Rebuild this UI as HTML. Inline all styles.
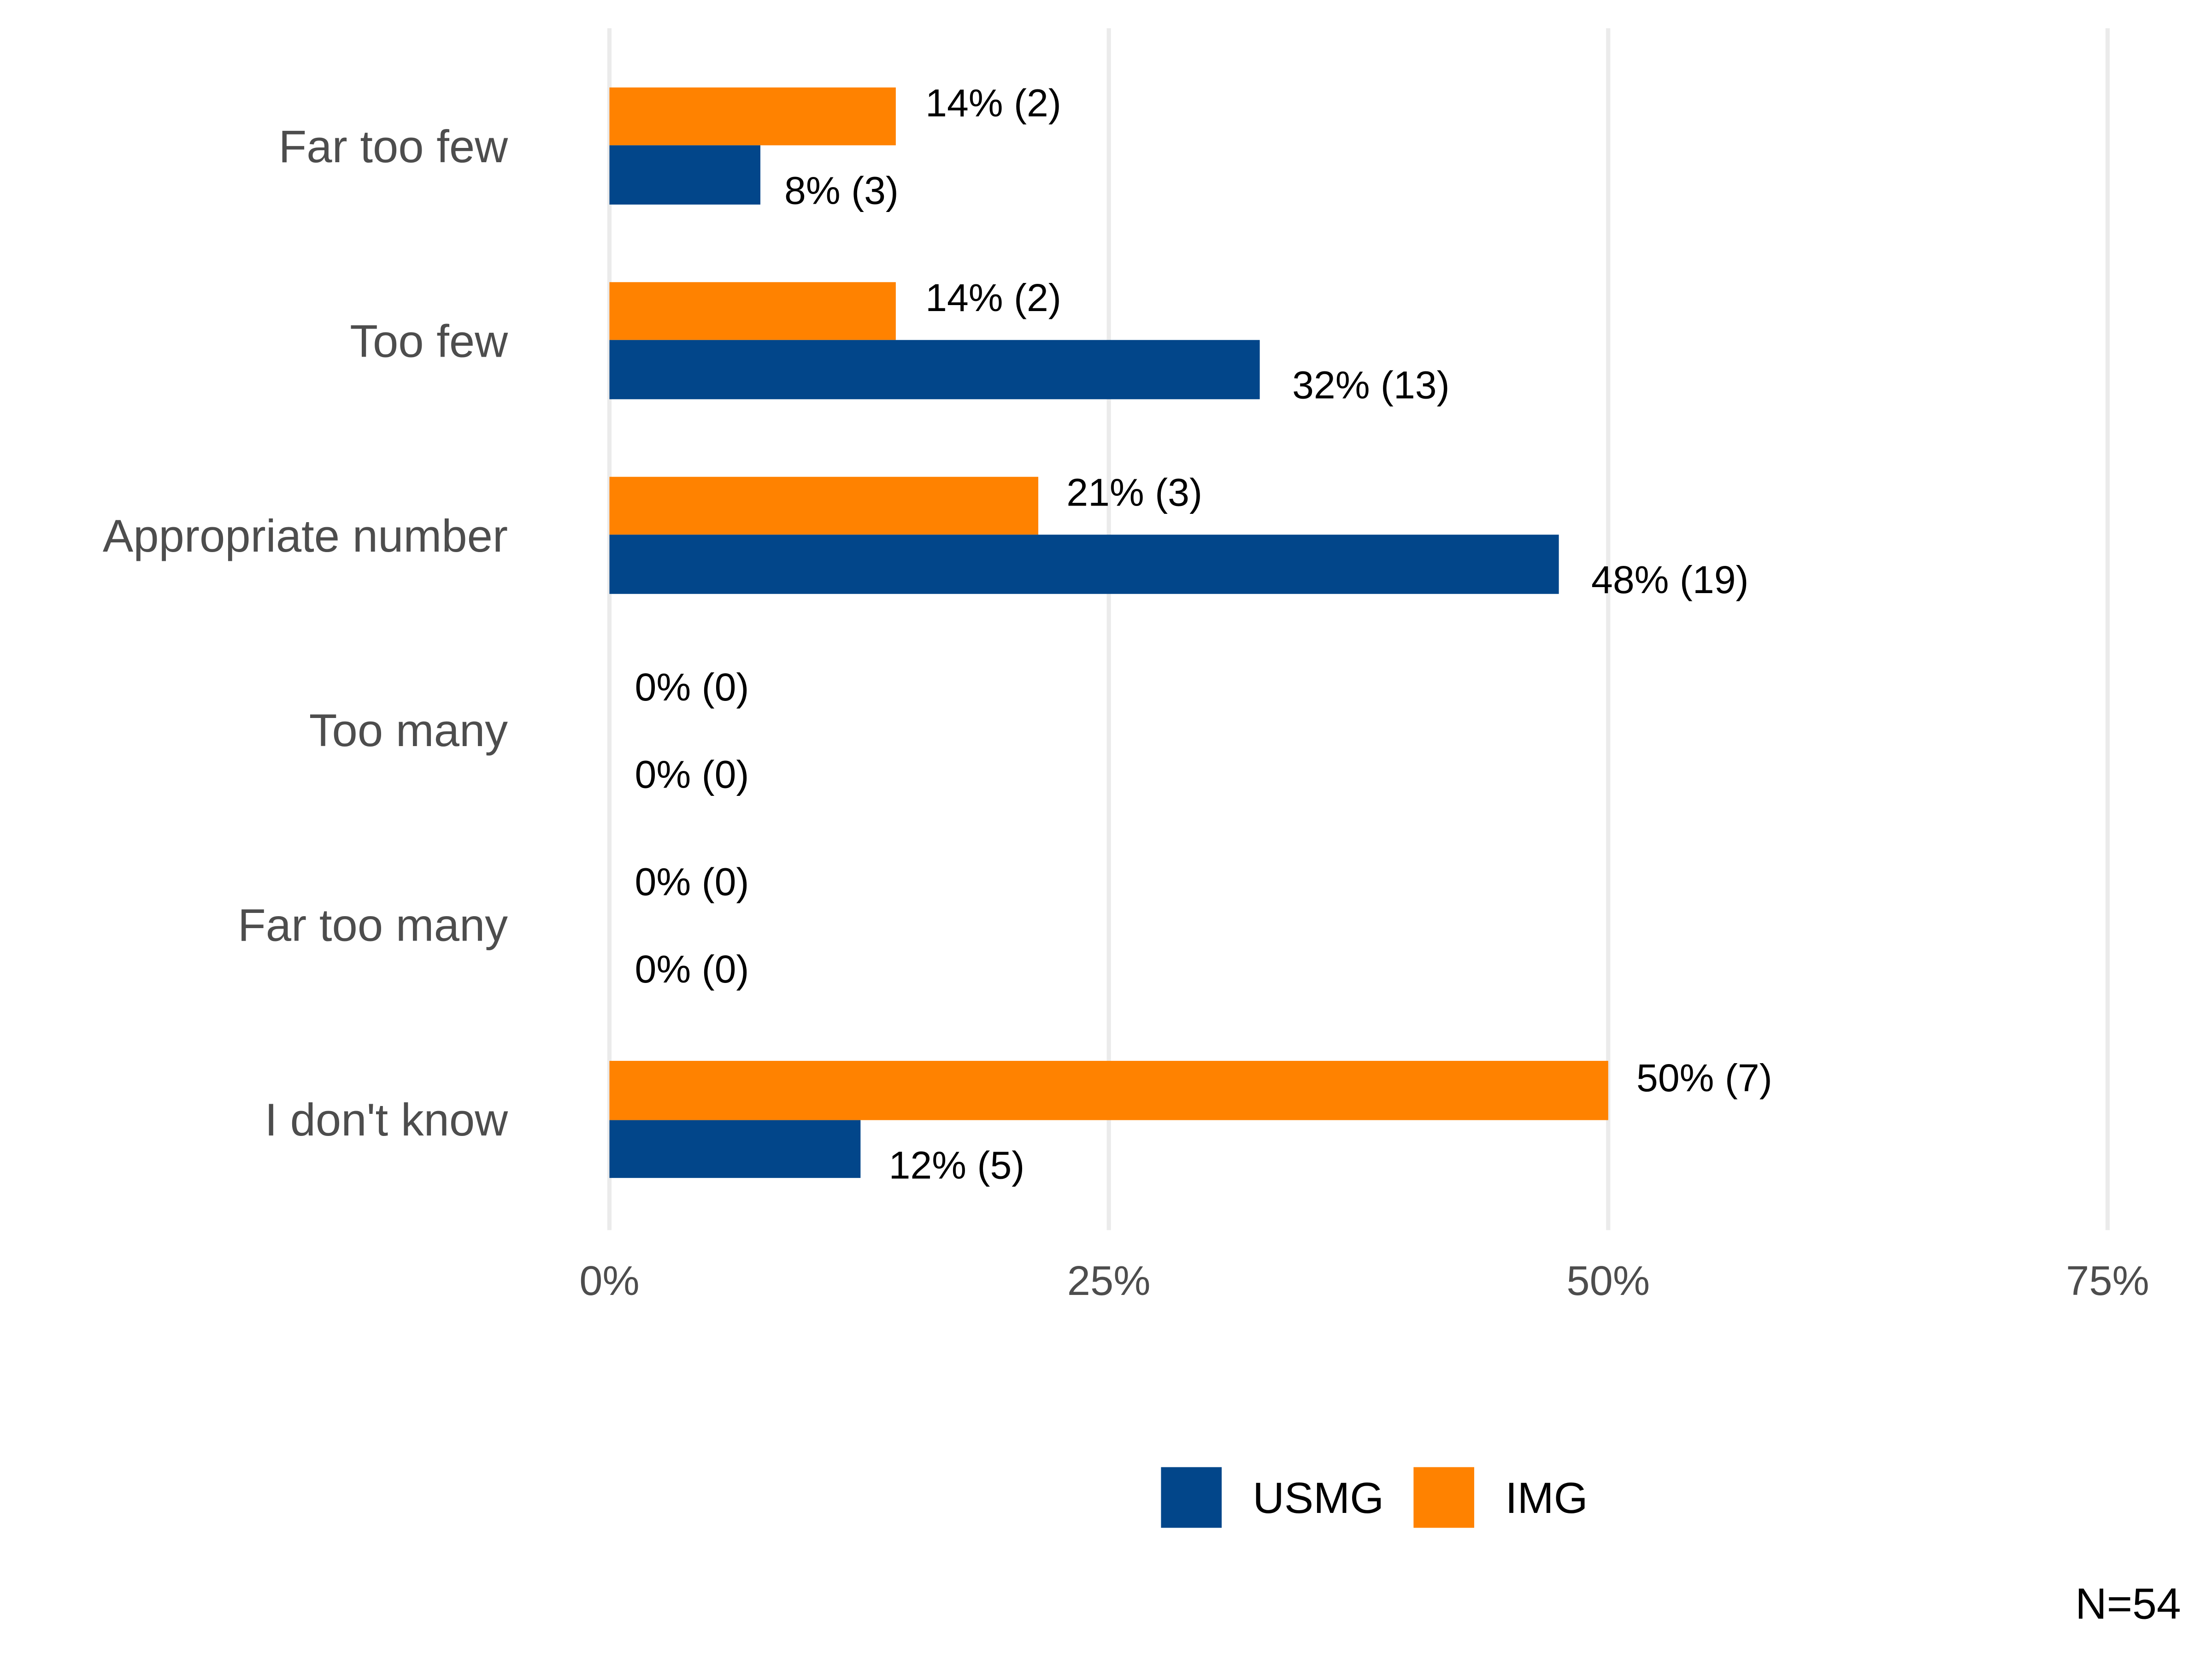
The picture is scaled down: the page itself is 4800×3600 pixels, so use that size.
<!DOCTYPE html>
<html><head><meta charset="utf-8"><style>html,body{margin:0;padding:0;background:#fff}svg{display:block}</style></head>
<body>
<svg width="4800" height="3600" viewBox="0 0 1568 1176" xmlns="http://www.w3.org/2000/svg" font-family="'Liberation Sans', 'DejaVu Sans', sans-serif">
<rect width="1568" height="1176" fill="#fff"/>
<g stroke="#ebebeb" stroke-width="3">
<line x1="432" y1="20" x2="432" y2="872"/>
<line x1="786" y1="20" x2="786" y2="872"/>
<line x1="1140" y1="20" x2="1140" y2="872"/>
<line x1="1494" y1="20" x2="1494" y2="872"/>
</g>
<g fill="#ff8200">
<rect x="432" y="62" width="203" height="41"/>
<rect x="432" y="200" width="203" height="41"/>
<rect x="432" y="338" width="304" height="41"/>
<rect x="432" y="752" width="708" height="42"/>
</g>
<g fill="#02468a">
<rect x="432" y="103" width="107" height="42"/>
<rect x="432" y="241" width="461" height="42"/>
<rect x="432" y="379" width="673" height="42"/>
<rect x="432" y="794" width="178" height="41"/>
</g>
<g font-size="27.5" fill="#000" dominant-baseline="central">
<text x="656" y="73">14% (2)</text>
<text x="556" y="135">8% (3)</text>
<text x="656" y="211">14% (2)</text>
<text x="916" y="273">32% (13)</text>
<text x="756" y="349">21% (3)</text>
<text x="1128" y="411">48% (19)</text>
<text x="450" y="487">0% (0)</text>
<text x="450" y="549">0% (0)</text>
<text x="450" y="625">0% (0)</text>
<text x="450" y="687">0% (0)</text>
<text x="1160" y="764">50% (7)</text>
<text x="630" y="826">12% (5)</text>
</g>
<g font-size="32.5" fill="#4d4d4d" text-anchor="end" dominant-baseline="central">
<text x="360" y="104">Far too few</text>
<text x="360" y="242">Too few</text>
<text x="360" y="380">Appropriate number</text>
<text x="360" y="518">Too many</text>
<text x="360" y="656">Far too many</text>
<text x="360" y="794">I don't know</text>
</g>
<g font-size="29.5" fill="#4d4d4d" text-anchor="middle" dominant-baseline="central">
<text x="432" y="908">0%</text>
<text x="786" y="908">25%</text>
<text x="1140" y="908">50%</text>
<text x="1494" y="908">75%</text>
</g>
<rect x="823" y="1040" width="43" height="43" fill="#02468a"/>
<rect x="1002" y="1040" width="43" height="43" fill="#ff8200"/>
<g font-size="31" fill="#000" dominant-baseline="central">
<text x="888" y="1062">USMG</text>
<text x="1067" y="1062">IMG</text>
<text x="1546" y="1137" text-anchor="end">N=54</text>
</g>
</svg>
</body></html>
